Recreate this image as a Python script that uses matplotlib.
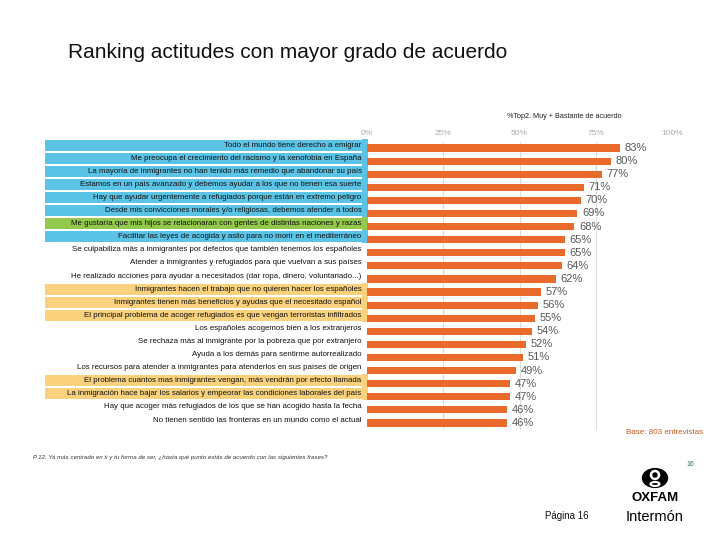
import matplotlib.pyplot as plt
from matplotlib.patches import Rectangle, Circle, Ellipse
from matplotlib import font_manager

plt.rcParams['font.family'] = ['Liberation Sans', 'DejaVu Sans']

labels = [
    "Todo el mundo tiene derecho a emigrar",
    "Me preocupa el crecimiento del racismo y la xenofobia en España",
    "La mayoría de inmigrantes no han tenido más remedio que abandonar su país",
    "Estamos en un país avanzado y debemos ayudar a los que no tienen esa suerte",
    "Hay que ayudar urgentemente a refugiados porque están en extremo peligro",
    "Desde mis convicciones morales y/o religiosas, debemos atender a todos",
    "Me gustaría que mis hijos se relacionaran con gentes de distintas naciones y razas",
    "Facilitar las leyes de acogida y asilo para no morir en el mediterráneo",
    "Se culpabiliza más a inmigrantes por defectos que también tenemos los españoles",
    "Atender a inmigrantes y refugiados para que vuelvan a sus países",
    "He realizado acciones para ayudar a necesitados (dar ropa, dinero, voluntariado...)",
    "Inmigrantes hacen el trabajo que no quieren hacer los españoles",
    "Inmigrantes tienen más beneficios y ayudas que el necesitado español",
    "El principal problema de acoger refugiados es que vengan terroristas infiltrados",
    "Los españoles acogemos bien a los extranjeros",
    "Se rechaza más al inmigrante por la pobreza que por extranjero",
    "Ayuda a los demás para sentirme autorrealizado",
    "Los recursos para atender a inmigrantes para atenderlos en sus países de origen",
    "El problema cuantos mas inmigrantes vengan, más vendrán por efecto llamada",
    "La inmigración hace bajar los salarios y empeorar las condiciones laborales del país",
    "Hay que acoger más refugiados de los que se han acogido hasta la fecha",
    "No tienen sentido las fronteras en un mundo como el actual",
]
values = [83, 80, 77, 71, 70, 69, 68, 65, 65, 64, 62, 57, 56, 55, 54, 52, 51, 49, 47, 47, 46, 46]
groups = ["blue"] * 6 + ["green", "blue"] + [None] * 3 + ["yellow"] * 3 + [None] * 4 + ["yellow"] * 2 + [None] * 2
ticks = [0, 25, 50, 75, 100]

group_colors = {"blue": "#5BC3E6", "green": "#92C84B", "yellow": "#FAD17C"}
bar_color = "#EA6A2B"

W, H = 720, 540
fig = plt.figure(figsize=(7.2, 5.4), dpi=100)

def P(x, y):
    return (x / W, 1 - y / H)

# axes placed in pixel positions
top, bot = 141.5, 429.5
ax = fig.add_axes([367 / W, 1 - bot / H, (672 - 367) / W, (bot - top) / H])
n = len(values)
ypos = list(range(n))
ax.barh(ypos, values, height=0.55, color=bar_color, zorder=3)
ax.set_xlim(0, 100)
ax.set_ylim(n - 0.5, -0.5)
for s in ax.spines.values():
    s.set_visible(False)
ax.set_yticks([])
ax.set_xticks(ticks)
ax.set_xticklabels([f"{t}%" for t in ticks], fontsize=6, color="#AAAAAA")
ax.xaxis.tick_top()
ax.tick_params(axis="x", length=0, pad=3)
for t in ticks[1:]:
    ax.axvline(t, color="#DDDDDD", lw=0.8, zorder=1)

for i, v in enumerate(values):
    ax.text(v + 1.5, i, f"{v}%", va="center", ha="left", fontsize=8, color="#595959")

# label column with coloured strips
off = -0.22
for i, (lab, g) in enumerate(zip(labels, groups)):
    if g:
        ax.add_patch(Rectangle((-105.5, i + off - 0.42), 104.2, 0.84, color=group_colors[g],
                               clip_on=False, zorder=2, lw=0))
        ax.add_patch(Rectangle((-1.6, i + off - 0.5), 1.9, 1.0, color=group_colors[g],
                               clip_on=False, zorder=2, lw=0))
    ax.text(-1.8, i + off, lab, ha="right", va="center", fontsize=5.7, color="#111111",
            clip_on=False, zorder=4)

fig.text(*P(68, 52), "Ranking actitudes con mayor grado de acuerdo", fontsize=15,
         ha="left", va="center", color="#111111")
fig.text(*P(564, 116), "%Top2. Muy + Bastante de acuerdo", fontsize=5.2,
         ha="center", va="center", color="#222222")
fig.text(*P(703, 433), "Base: 803 entrevistas", fontsize=5.8, ha="right", va="center",
         color="#C65A1E")
fig.text(*P(33, 458), "P.12. Ya más centrado en ti y tu forma de ser, ¿hasta qué punto estás de acuerdo con las siguientes frases?",
         fontsize=4.4, style="italic", ha="left", va="center", color="#333333")
fig.text(*P(690, 465), "16", fontsize=5, ha="center", va="center", color="#2E6B5E")
fig.text(*P(567, 516), "Página 16", fontsize=7, ha="center", va="center", color="#111111")

# logo
fig.patches.append(Circle(P(655, 478), 12.5 / W, transform=fig.transFigure, color="black"))
fig.patches.append(Ellipse(P(655, 475), 8 / W, 8 / H, transform=fig.transFigure,
                           fill=False, ec="white", lw=1.8))
fig.patches.append(Ellipse(P(655, 484), 9 / W, 4 / H, transform=fig.transFigure,
                           fill=False, ec="white", lw=1.5))
names = {f.name for f in font_manager.fontManager.ttflist}
narrow = "Liberation Sans Narrow" if "Liberation Sans Narrow" in names else "Liberation Sans"
fig.text(*P(655, 498), "OXFAM", fontsize=9.5, fontweight="bold", ha="center", va="center",
         color="black", family=narrow)
fig.text(*P(655, 517), "Intermón", fontsize=10.5, ha="center", va="center", color="black")

fig.savefig("out.png", dpi=100)
